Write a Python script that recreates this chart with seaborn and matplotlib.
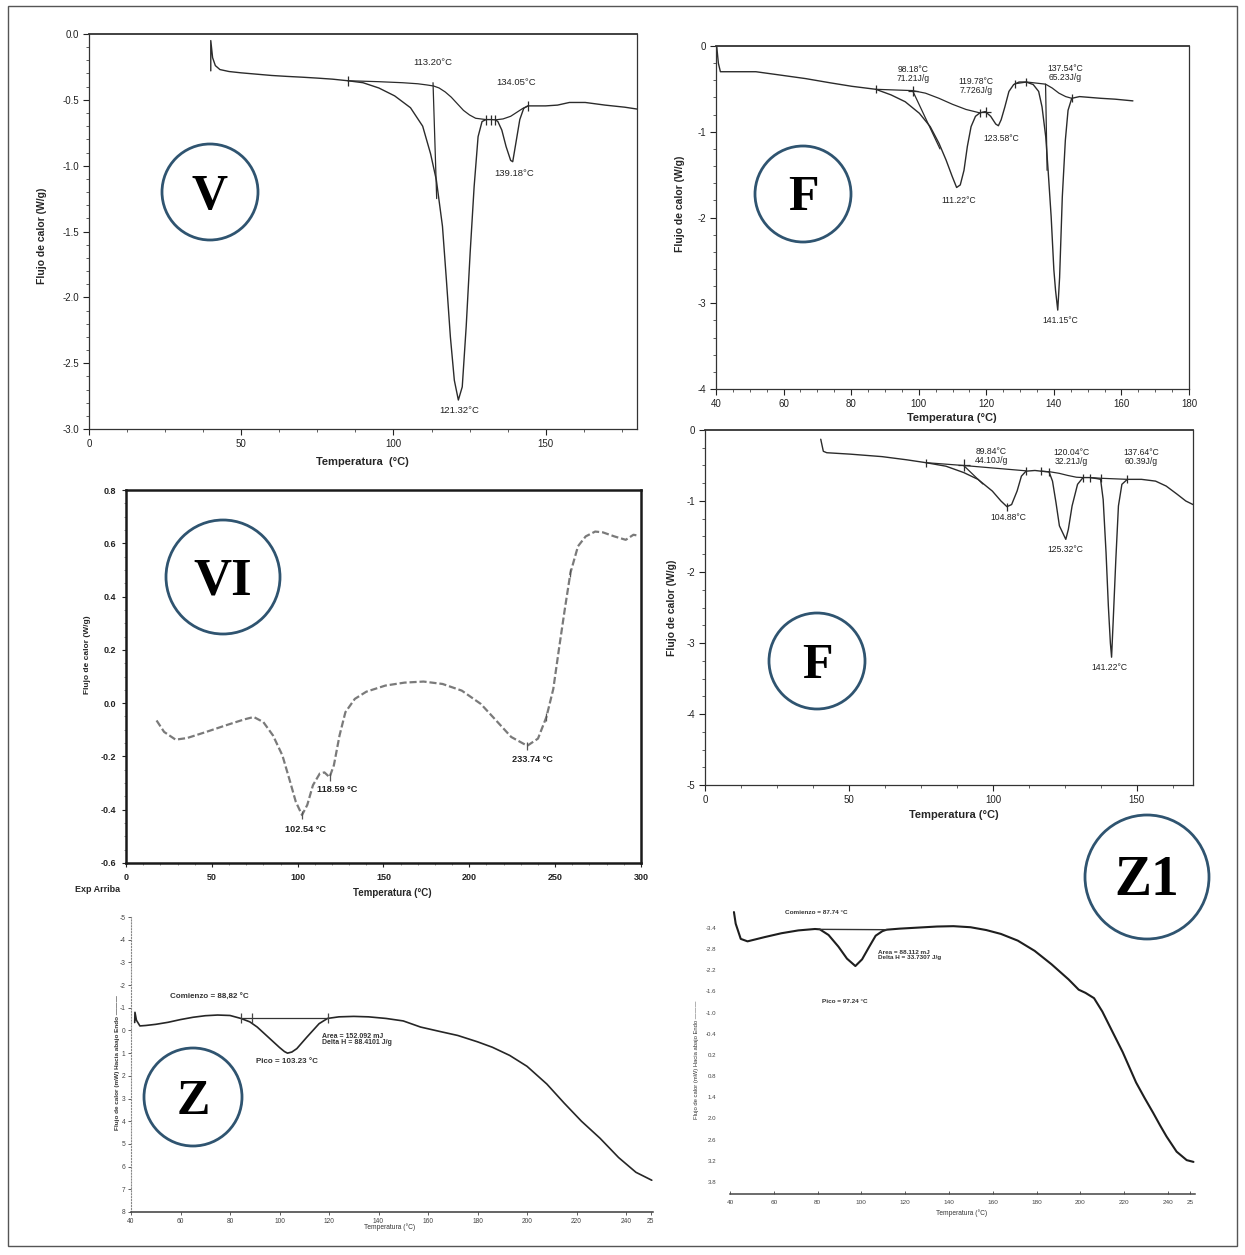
import matplotlib
matplotlib.use("Agg")
import matplotlib.pyplot as plt
import seaborn as sns
from matplotlib.patches import Ellipse, Rectangle
from matplotlib.ticker import MultipleLocator

W, H = 1245, 1255
INK = "#2b2b2b"
RING = "#2f5470"

# ---------------- Panel V : DSC, 0-180 °C ----------------
v_temp = [40.0, 40.0, 40.6, 41.5, 43.0, 46, 50, 55, 60, 65, 70, 75, 80, 85, 90, 95.2,
          100.4, 105.6, 109.6, 112.2, 114.1, 116.1, 117.4, 118.7, 120.0, 121.32, 122.6,
          123.9, 125.2, 126.5, 127.8, 129.1, 130.4, 132.0, 133.5, 134.3, 135.6, 137.0,
          138.5, 139.18, 140.2, 141.5, 142.8, 144.1, 150, 153.9, 157.8, 163, 169.5, 176, 180]
v_flow = [-0.28, -0.05, -0.18, -0.24, -0.27, -0.285, -0.295, -0.305, -0.315, -0.322,
          -0.328, -0.335, -0.343, -0.355, -0.37, -0.41, -0.47, -0.56, -0.70, -0.91, -1.11,
          -1.46, -1.87, -2.30, -2.63, -2.78, -2.68, -2.22, -1.66, -1.16, -0.78, -0.665,
          -0.65, -0.65, -0.652, -0.665, -0.73, -0.855, -0.96, -0.97, -0.83, -0.65, -0.564,
          -0.546, -0.546, -0.54, -0.52, -0.52, -0.54, -0.556, -0.57]
v_base1_temp = [85, 95, 103, 108, 111, 113.2, 115, 117, 119, 121, 123, 125, 127, 130.4]
v_base1_flow = [-0.355, -0.362, -0.37, -0.378, -0.387, -0.395, -0.41, -0.44, -0.48,
                -0.53, -0.58, -0.615, -0.64, -0.65]
v_base2_temp = [133.5, 136, 138.5, 140.5, 142.5, 144.1]
v_base2_flow = [-0.652, -0.645, -0.625, -0.595, -0.565, -0.548]
v_onset_temp = [113.0, 114.2]
v_onset_flow = [-0.37, -1.25]
v_mark_temp = [85, 130.4, 131.9, 133.5, 144.1]
v_mark_flow = [-0.355, -0.65, -0.65, -0.652, -0.548]
v_notes = ["113.20°C", "134.05°C", "139.18°C", "121.32°C"]
v_note_x = [113.0, 140.2, 139.8, 121.6]
v_note_y = [-0.22, -0.37, -1.06, -2.86]

# ---------------- Panel F (upper) : 40-180 °C ----------------
ft_temp = [40.2, 40.7, 41.3, 45.5, 51.8, 59.2, 66.5, 73.9, 80.2, 87.3, 91.8, 96, 100.2,
           103.4, 106, 108.1, 109.9, 111.22, 112.3, 113.4, 114.4, 115.5, 116.8, 118.1,
           119.7, 121.3, 122.8, 123.58, 124.4, 125.5, 126.7, 128.1, 129.7, 131.8, 133.9,
           135.5, 136.5, 137.6, 138.3, 139.2, 140.0, 140.5, 141.15, 141.7, 142.5, 143.4,
           144.2, 145.3, 147.6, 153.9, 158.1, 163.4]
ft_flow = [0.0, -0.2, -0.30, -0.30, -0.30, -0.34, -0.38, -0.43, -0.47, -0.505, -0.57,
           -0.65, -0.785, -0.94, -1.135, -1.33, -1.52, -1.65, -1.62, -1.45, -1.17, -0.94,
           -0.82, -0.78, -0.765, -0.82, -0.91, -0.93, -0.86, -0.71, -0.53, -0.45, -0.42,
           -0.42, -0.45, -0.53, -0.71, -1.06, -1.45, -1.99, -2.61, -2.85, -3.08, -2.7,
           -1.76, -1.10, -0.75, -0.61, -0.59, -0.61, -0.62, -0.64]
ft_base1_temp = [87.3, 98.18, 102, 106, 110, 114, 118.1]
ft_base1_flow = [-0.505, -0.52, -0.55, -0.61, -0.68, -0.74, -0.78]
ft_base2_temp = [128.5, 132, 137.54, 139.5, 141.5, 143.5, 145.3]
ft_base2_flow = [-0.44, -0.42, -0.445, -0.49, -0.55, -0.59, -0.61]
ft_onset1_temp = [98.18, 106.3]
ft_onset1_flow = [-0.52, -1.2]
ft_onset2_temp = [137.54, 138.0]
ft_onset2_flow = [-0.445, -1.45]
ft_tick_temp = [87.3, 118.1, 128.5, 131.8, 145.3]
ft_tick_flow = [-0.505, -0.78, -0.44, -0.42, -0.61]
ft_cross_temp = [98.18, 119.78]
ft_cross_flow = [-0.52, -0.765]
ft_notes = ["98.18°C\n71.21J/g", "119.78°C\n7.726J/g", "137.54°C\n65.23J/g",
            "111.22°C", "123.58°C", "141.15°C"]
ft_note_x = [98.4, 117.0, 143.3, 111.8, 124.4, 141.8]
ft_note_y = [-0.33, -0.47, -0.31, -1.80, -1.08, -3.20]

# ---------------- Panel VI : 0-300 °C ----------------
vi_temp = [17.8, 22.2, 28.9, 35.6, 46.7, 57.8, 68.9, 74.4, 80.0, 85.6, 91.1, 95.6, 98.9,
           102.54, 105.6, 108.9, 112.9, 115.6, 118.59, 121.1, 124.4, 127.8, 133.3, 140.0,
           151.1, 162.2, 173.3, 184.4, 195.6, 206.7, 215.6, 224.4, 233.74, 240.0, 244.9,
           248.9, 252.2, 255.6, 258.9, 263.3, 267.8, 273.3, 277.8, 284.4, 291.1, 295.6, 298.9]
vi_flow = [-0.065, -0.108, -0.137, -0.131, -0.108, -0.084, -0.061, -0.052, -0.071, -0.121,
           -0.196, -0.295, -0.37, -0.42, -0.382, -0.308, -0.264, -0.26, -0.278, -0.233,
           -0.121, -0.034, 0.016, 0.043, 0.066, 0.077, 0.081, 0.072, 0.047, -0.003, -0.065,
           -0.127, -0.16, -0.133, -0.052, 0.053, 0.203, 0.352, 0.489, 0.589, 0.626, 0.644,
           0.641, 0.626, 0.613, 0.632, 0.628]
vi_mark_temp = [102.54, 118.59, 233.74, 244.9, 258.9]
vi_mark_flow = [-0.42, -0.278, -0.16, -0.052, 0.489]
vi_notes = ["102.54 °C", "118.59 °C", "233.74 °C"]
vi_note_x = [104.4, 123.3, 236.7]
vi_note_y = [-0.475, -0.326, -0.21]

# ---------------- Panel F (middle) : 0-170 °C ----------------
fm_temp = [40.2, 41.1, 42.3, 50.4, 61.5, 70.1, 76.7, 83.7, 89.9, 94.8, 99.8, 102.8, 104.88,
           106.5, 108.4, 109.9, 111.5, 114.6, 116.7, 119.5, 120.7, 121.9, 123.1, 125.32,
           126.2, 127.5, 129.4, 131.3, 133.7, 136.2, 137.4, 138.3, 139.3, 140.1, 140.8,
           141.22, 141.8, 142.7, 143.6, 144.8, 146.7, 151.6, 156.5, 160.2, 164.0, 167.0, 169.5]
fm_flow = [-0.13, -0.30, -0.32, -0.34, -0.375, -0.42, -0.46, -0.51, -0.60, -0.695, -0.86,
           -1.0, -1.08, -1.05, -0.86, -0.65, -0.58, -0.57, -0.58, -0.59, -0.72, -1.02, -1.35,
           -1.54, -1.40, -1.07, -0.765, -0.67, -0.67, -0.685, -0.695, -0.98, -1.73, -2.48,
           -3.0, -3.2, -2.67, -1.82, -1.07, -0.765, -0.695, -0.695, -0.72, -0.79, -0.905,
           -1.0, -1.05]
fm_base1_temp = [76.7, 89.84, 111.5]
fm_base1_flow = [-0.46, -0.5, -0.575]
fm_base2_temp = [116.7, 120, 123, 126, 129, 131.3]
fm_base2_flow = [-0.58, -0.59, -0.61, -0.64, -0.665, -0.67]
fm_base3_temp = [133.7, 137.64, 146.7]
fm_base3_flow = [-0.67, -0.68, -0.695]
fm_onset_temp = [89.84, 96.5]
fm_onset_flow = [-0.5, -0.76]
fm_tick_temp = [76.7, 104.88, 111.5, 116.7, 119.5, 131.3, 133.7, 137.64, 146.7]
fm_tick_flow = [-0.46, -1.08, -0.575, -0.58, -0.59, -0.67, -0.67, -0.68, -0.695]
fm_cross_temp = [89.84]
fm_cross_flow = [-0.5]
fm_notes = ["89.84°C\n44.10J/g", "120.04°C\n32.21J/g", "137.64°C\n60.39J/g",
            "104.88°C", "125.32°C", "141.22°C"]
fm_note_x = [99.4, 127.2, 151.6, 105.3, 125.1, 140.5]
fm_note_y = [-0.37, -0.38, -0.38, -1.23, -1.68, -3.35]

# ---------------- Panel Z : 40-250 °C (mW, endo down) ----------------
z_temp = [41.5, 41.6, 42.2, 43.6, 46, 50, 55, 60, 65, 70, 75, 80, 84.4, 88, 91, 94, 97, 100,
          102, 103.23, 105, 107, 109, 111, 113.5, 116, 119.4, 124, 130, 136, 143, 150, 157,
          165, 172, 180, 186, 193, 200, 208, 215, 222, 229.5, 237, 244, 250.4]
z_flow = [-0.35, -0.8, -0.45, -0.2, -0.22, -0.27, -0.36, -0.48, -0.58, -0.65, -0.68, -0.66,
          -0.53, -0.38, -0.15, 0.15, 0.45, 0.75, 0.93, 1.0, 0.95, 0.8, 0.55, 0.3, 0.0, -0.3,
          -0.53, -0.6, -0.62, -0.6, -0.53, -0.42, -0.15, 0.05, 0.22, 0.5, 0.74, 1.1, 1.58,
          2.36, 3.2, 4.0, 4.75, 5.6, 6.25, 6.6]
z_base_temp = [84.4, 119.4]
z_base_flow = [-0.53, -0.53]
z_tick_temp = [84.4, 88.82, 119.4]
z_tick_flow = [-0.53, -0.53, -0.53]
z_yticks = list(range(-5, 9))
z_xticks = [40, 60, 80, 100, 120, 140, 160, 180, 200, 220, 240, 250]
z_xlabels = ["40", "60", "80", "100", "120", "140", "160", "180", "200", "220", "240", "25"]
z_notes = ["Comienzo = 88,82 °C", "Area = 152.092 mJ\nDelta H = 88.4101 J/g", "Pico = 103.23 °C"]
z_note_x = [55.8, 117.2, 90.5]
z_note_y = [-1.46, 0.4, 1.37]

# ---------------- Panel Z1 : 40-250 °C (mW, endo down) ----------------
z1_temp = [41.8, 42.6, 44.9, 48.0, 55.8, 63.5, 71.2, 78.8, 81.0, 85.0, 89.5, 93.4, 97.24,
           100.3, 103.4, 106.5, 109.6, 111.5, 117.5, 126, 134.5, 142, 149.8, 157, 163.7,
           171.4, 179.1, 186.8, 194.6, 199.2, 202.3, 206.2, 210, 214.6, 219.3, 225.4, 229.3,
           233.2, 236.4, 239.3, 243.9, 248.5, 251.6]
z1_flow = [-3.85, -3.52, -3.09, -3.02, -3.14, -3.25, -3.33, -3.37, -3.36, -3.2, -2.87,
           -2.53, -2.32, -2.51, -2.85, -3.18, -3.31, -3.35, -3.38, -3.41, -3.44, -3.45,
           -3.42, -3.34, -3.23, -3.04, -2.75, -2.37, -1.94, -1.65, -1.56, -1.41, -1.03,
           -0.46, 0.12, 0.98, 1.42, 1.84, 2.2, 2.51, 2.94, 3.18, 3.23]
z1_base_temp = [80.7, 111.5]
z1_base_flow = [-3.36, -3.35]
z1_yticks = [-3.4, -2.8, -2.2, -1.6, -1.0, -0.4, 0.2, 0.8, 1.4, 2.0, 2.6, 3.2, 3.8]
z1_xticks = [40, 60, 80, 100, 120, 140, 160, 180, 200, 220, 240, 250]
z1_xlabels = ["40", "60", "80", "100", "120", "140", "160", "180", "200", "220", "240", "25"]
z1_notes = ["Comienzo = 87.74 °C", "Area = 88.112 mJ\nDelta H = 33.7307 J/g", "Pico = 97.24 °C"]
z1_note_x = [65.0, 107.4, 82.0]
z1_note_y = [-3.85, -2.64, -1.32]

# ---------------------------------------------------------------------------
sns.set_style("ticks")
plt.rcParams["font.family"] = ["Liberation Sans", "DejaVu Sans"]
plt.rcParams["axes.unicode_minus"] = False
plt.rcParams["lines.solid_joinstyle"] = "round"
plt.rcParams["lines.solid_capstyle"] = "round"

fig = plt.figure(figsize=(W / 100, H / 100), dpi=100)
fig.patch.set_facecolor("white")


def panel(l, t, r, b):
    ax = fig.add_axes([l / W, 1 - b / H, (r - l) / W, (b - t) / H])
    ax.set_facecolor("none")
    return ax


def trace(ax, x, y, color=INK, lw=1.0, ls="-"):
    sns.lineplot(x=x, y=y, ax=ax, sort=False, estimator=None, color=color,
                 linewidth=lw, linestyle=ls, legend=False)


def marks(ax, x, y, m="|", size=6, color=INK):
    ax.plot(x, y, ls="none", marker=m, ms=size, mew=0.9, color=color)


def ftext(x, y, s, **kw):
    fig.text(x / W, 1 - y / H, s, **kw)


def badge(cx, cy, r, letter, size):
    fig.add_artist(Ellipse((cx / W, 1 - cy / H), 2 * r / W, 2 * r / H,
                           transform=fig.transFigure, fill=False, ec=RING, lw=2.0))
    cap = 0.66 * size * 100 / 72
    fig.text(cx / W, 1 - (cy + cap / 2) / H, letter, ha="center", va="baseline",
             fontsize=size, fontweight="bold", family="Liberation Serif", color="black")


def frame(ax, lw=0.9, color="#333333"):
    for s in ax.spines.values():
        s.set_visible(True)
        s.set_linewidth(lw)
        s.set_color(color)


# ---- V ----
ax = panel(89, 34, 637, 429)
trace(ax, v_temp, v_flow)
trace(ax, v_base1_temp, v_base1_flow, lw=0.9)
trace(ax, v_base2_temp, v_base2_flow, lw=0.9)
trace(ax, v_onset_temp, v_onset_flow, lw=0.9)
marks(ax, v_mark_temp, v_mark_flow, size=7)
for s, x, y in zip(v_notes, v_note_x, v_note_y):
    ax.text(x, y, s, ha="center", va="center", fontsize=6.8, color="#222")
ax.set_xlim(0, 180)
ax.set_ylim(-3, 0)
ax.set_xticks([0, 50, 100, 150])
ax.set_yticks([0.0, -0.5, -1.0, -1.5, -2.0, -2.5, -3.0])
ax.set_yticklabels(["0.0", "-0.5", "-1.0", "-1.5", "-2.0", "-2.5", "-3.0"])
ax.xaxis.set_minor_locator(MultipleLocator(12.5))
ax.yaxis.set_minor_locator(MultipleLocator(0.1))
ax.tick_params(which="major", labelsize=7, length=4, width=0.8, direction="out", pad=3, colors="#222")
ax.tick_params(which="minor", length=2, width=0.6, direction="out", colors="#444")
ax.tick_params(right=False, top=False, which="both")
frame(ax)
ax.spines["top"].set_linewidth(1.3)
ax.set_xlabel("")
ax.set_ylabel("")
ftext(362, 462, "Temperatura  (°C)", ha="center", va="center", fontsize=8, fontweight="bold")
ftext(42, 236, "Flujo de calor (W/g)", ha="center", va="center", rotation=90, fontsize=7.5, fontweight="bold")

# ---- F (upper) ----
ax = panel(716, 46, 1189, 389)
trace(ax, ft_temp, ft_flow)
trace(ax, ft_base1_temp, ft_base1_flow, lw=0.9)
trace(ax, ft_base2_temp, ft_base2_flow, lw=0.9)
trace(ax, ft_onset1_temp, ft_onset1_flow, lw=0.9)
trace(ax, ft_onset2_temp, ft_onset2_flow, lw=0.9)
marks(ax, ft_tick_temp, ft_tick_flow, size=6)
marks(ax, ft_cross_temp, ft_cross_flow, m="+", size=7)
for s, x, y in zip(ft_notes, ft_note_x, ft_note_y):
    ax.text(x, y, s, ha="center", va="center", fontsize=6.2, color="#222", linespacing=1.0)
ax.set_xlim(40, 180)
ax.set_ylim(-4, 0)
ax.set_xticks([40, 60, 80, 100, 120, 140, 160, 180])
ax.set_yticks([0, -1, -2, -3, -4])
ax.set_yticklabels(["0", "-1", "-2", "-3", "-4"])
ax.xaxis.set_minor_locator(MultipleLocator(5))
ax.yaxis.set_minor_locator(MultipleLocator(0.2))
ax.tick_params(which="major", labelsize=7, length=4, width=0.8, direction="out", pad=3, colors="#222")
ax.tick_params(which="minor", length=2, width=0.6, direction="out", colors="#444")
frame(ax)
ax.spines["top"].set_linewidth(1.3)
ax.set_xlabel("")
ax.set_ylabel("")
ftext(952, 418, "Temperatura (°C)", ha="center", va="center", fontsize=8, fontweight="bold")
ftext(680, 204, "Flujo de calor (W/g)", ha="center", va="center", rotation=90, fontsize=7.5, fontweight="bold")

# ---- VI ----
ax = panel(126, 490, 641, 863)
trace(ax, vi_temp, vi_flow, color="#7a7a7a", lw=1.6, ls=(0, (3.2, 1.3)))
marks(ax, vi_mark_temp, vi_mark_flow, size=6, color="#555555")
for s, x, y in zip(vi_notes, vi_note_x, vi_note_y):
    ax.text(x, y, s, ha="center", va="center", fontsize=6.6, fontweight="bold", color="#222")
ax.set_xlim(0, 300)
ax.set_ylim(-0.6, 0.8)
ax.set_xticks([0, 50, 100, 150, 200, 250, 300])
ax.set_xticklabels(["0", "50", "100", "150", "200", "250", "300"], fontweight="bold")
ax.set_yticks([0.8, 0.6, 0.4, 0.2, 0.0, -0.2, -0.4, -0.6])
ax.set_yticklabels(["0.8", "0.6", "0.4", "0.2", "0.0", "-0.2", "-0.4", "-0.6"], fontweight="bold")
ax.xaxis.set_minor_locator(MultipleLocator(10))
ax.yaxis.set_minor_locator(MultipleLocator(0.05))
ax.tick_params(which="major", labelsize=6.5, length=3, width=0.8, direction="out", pad=4, colors="#222")
ax.tick_params(which="minor", length=1.5, width=0.5, direction="out", colors="#666")
frame(ax, lw=1.8, color="#1a1a1a")
ax.set_xlabel("")
ax.set_ylabel("")
ftext(392, 893, "Temperatura (°C)", ha="center", va="center", fontsize=7, fontweight="bold")
ftext(88, 655, "Flujo de calor (W/g)", ha="center", va="center", rotation=90, fontsize=6, fontweight="bold")
ftext(98, 890, "Exp Arriba", ha="center", va="center", fontsize=6.5, fontweight="bold")

# ---- F (middle) ----
ax = panel(705, 430, 1193, 785)
trace(ax, fm_temp, fm_flow)
trace(ax, fm_base1_temp, fm_base1_flow, lw=0.9)
trace(ax, fm_base2_temp, fm_base2_flow, lw=0.9)
trace(ax, fm_base3_temp, fm_base3_flow, lw=0.9)
trace(ax, fm_onset_temp, fm_onset_flow, lw=0.9)
marks(ax, fm_tick_temp, fm_tick_flow, size=6)
marks(ax, fm_cross_temp, fm_cross_flow, m="+", size=8)
for s, x, y in zip(fm_notes, fm_note_x, fm_note_y):
    ax.text(x, y, s, ha="center", va="center", fontsize=6.2, color="#222", linespacing=1.0)
ax.set_xlim(0, 169.5)
ax.set_ylim(-5, 0)
ax.set_xticks([0, 50, 100, 150])
ax.set_yticks([0, -1, -2, -3, -4, -5])
ax.set_yticklabels(["0", "-1", "-2", "-3", "-4", "-5"])
ax.xaxis.set_minor_locator(MultipleLocator(12.5))
ax.yaxis.set_minor_locator(MultipleLocator(0.25))
ax.tick_params(which="major", labelsize=7, length=4, width=0.8, direction="out", pad=3, colors="#222")
ax.tick_params(which="minor", length=2, width=0.6, direction="out", colors="#444")
frame(ax)
ax.spines["top"].set_linewidth(1.3)
ax.set_xlabel("")
ax.set_ylabel("")
ftext(954, 815, "Temperatura (°C)", ha="center", va="center", fontsize=8, fontweight="bold")
ftext(672, 608, "Flujo de calor (W/g)", ha="center", va="center", rotation=90, fontsize=7.5, fontweight="bold")

# ---- Z ----
ax = panel(131, 917, 653, 1212)
trace(ax, z_temp, z_flow, color="#262626", lw=1.2)
trace(ax, z_base_temp, z_base_flow, color="#333333", lw=0.9)
marks(ax, z_tick_temp, z_tick_flow, size=7, color="#444444")
for s, x, y in zip(z_notes, z_note_x, z_note_y):
    fs = 5.8 if s.startswith(("Comienzo", "Pico")) else 5.0
    ax.text(x, y, s, ha="left", va="center", fontsize=fs, fontweight="bold", color="#333", linespacing=0.9)
ax.set_xlim(40, 250.9)
ax.set_ylim(8, -5)
ax.set_xticks(z_xticks)
ax.set_xticklabels(z_xlabels)
ax.set_yticks(z_yticks)
ax.set_yticklabels([str(v) for v in z_yticks])
ax.tick_params(labelsize=4.8, length=2, width=0.6, direction="out", pad=2, colors="#444")
for s in ax.spines.values():
    s.set_visible(False)
ax.spines["left"].set_visible(True)
ax.spines["left"].set_color("#888888")
ax.spines["left"].set_linestyle(":")
ax.spines["left"].set_linewidth(0.8)
ax.spines["bottom"].set_visible(True)
ax.spines["bottom"].set_color("#3a3a3a")
ax.spines["bottom"].set_linewidth(1.1)
ax.set_xlabel("")
ax.set_ylabel("")
ftext(390, 1227, "Temperatura (°C)", ha="center", va="center", fontsize=4.8, color="#333")
ftext(117, 1063, "Flujo de calor (mW) Hacia abajo Endo ———", ha="center", va="center",
      rotation=90, fontsize=4.6, fontweight="bold", color="#333")

# ---- Z1 ----
ax = panel(730, 905, 1195, 1194)
trace(ax, z1_temp, z1_flow, color="#1e1e1e", lw=1.5)
trace(ax, z1_base_temp, z1_base_flow, color="#333333", lw=1.0)
for s, x, y in zip(z1_notes, z1_note_x, z1_note_y):
    ax.text(x, y, s, ha="left", va="center", fontsize=4.6, fontweight="bold", color="#333", linespacing=0.9)
ax.set_xlim(40, 252.3)
ax.set_ylim(4.14, -4.05)
ax.set_xticks(z1_xticks)
ax.set_xticklabels(z1_xlabels)
ax.set_yticks(z1_yticks)
ax.set_yticklabels([f"{v:.1f}" for v in z1_yticks])
ax.tick_params(axis="x", labelsize=4.6, length=2, width=0.6, direction="in", pad=4, colors="#444")
ax.tick_params(axis="y", labelsize=4.4, length=0, pad=10, colors="#444")
for s in ax.spines.values():
    s.set_visible(False)
ax.spines["bottom"].set_visible(True)
ax.spines["bottom"].set_color("#444444")
ax.spines["bottom"].set_linewidth(1.1)
ax.set_xlabel("")
ax.set_ylabel("")
ftext(962, 1213, "Temperatura (°C)", ha="center", va="center", fontsize=4.8, color="#333")
ftext(696, 1060, "Flujo de calor (mW) Hacia abajo Endo ———", ha="center", va="center",
      rotation=90, fontsize=4.2, color="#333")

# ---- panel badges ----
badge(210, 192, 48, "V", 36)
badge(803, 194, 48, "F", 36)
badge(223, 577, 57, "VI", 38)
badge(817, 661, 48, "F", 36)
badge(193, 1097, 49, "Z", 36)
badge(1147, 877, 62, "Z1", 40)

# outer frame
fig.add_artist(Rectangle((8 / W, 1 - 1246 / H), 1229 / W, 1240 / H, transform=fig.transFigure,
                         fill=False, ec="#555555", lw=1.0))

fig.savefig("out.png", dpi=100, facecolor="white")
